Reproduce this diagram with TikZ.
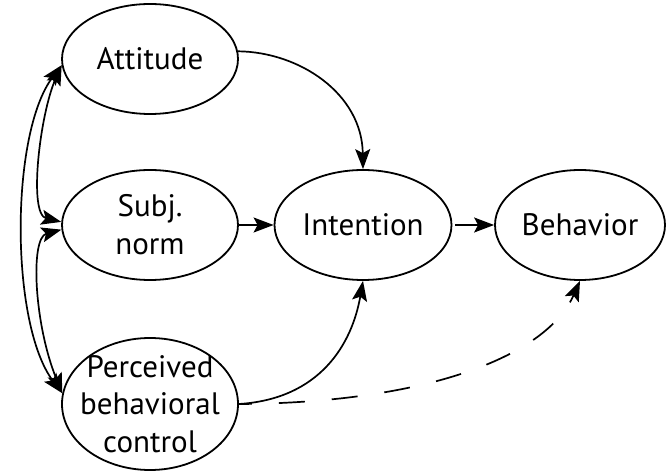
\documentclass[tikz,border=0pt]{standalone}
\usepackage{fontspec}
\setmainfont{PT Sans}
\usetikzlibrary{shapes.geometric,arrows.meta}
\begin{document}
\begin{tikzpicture}[x=1pt,y=1pt,
  ell/.style={ellipse, draw, line width=1.8pt, inner sep=-30pt, align=center,
              font=\fontsize{31}{38}\selectfont},
  arr/.style={line width=1.7pt, -{Stealth[length=20pt,width=15pt,inset=4pt]}},
  darr/.style={line width=1.7pt, {Stealth[length=20pt,width=15pt,inset=4pt]}-{Stealth[length=20pt,width=15pt,inset=4pt]}},
  dash arr/.style={arr, dash pattern=on 26pt off 27pt, dash phase=13pt}]
\useasboundingbox (0,0) rectangle (666,474);
\node[ell, minimum width=176pt, minimum height=110pt] (att)  at (150,415) {Attitude};
\node[ell, minimum width=176pt, minimum height=110pt] (subj) at (150,249) {Subj.\\norm};
\node[ell, minimum width=176pt, minimum height=132pt, font=\fontsize{31}{37.5}\selectfont] (pbc) at (150,70) {Perceived\\behavioral\\control};
\node[ell, minimum width=177pt, minimum height=110pt] (int)  at (363,249) {Intention};
\node[ell, minimum width=170pt, minimum height=110pt] (beh)  at (580,249) {Behavior};
% main arrows
\draw[arr] (att.5) .. controls (300,422) and (362,380) .. (int.north);
\draw[arr] (subj.east) -- (int.west);
\draw[arr, shorten <=3pt] (int.east) -- (beh.west);
\draw[arr] (pbc.east) .. controls (320,75) and (352,130) .. (int.south);
\draw[dash arr] (pbc.east) .. controls (420,71) and (545,115) .. (beh.-90);
% correlations
\draw[darr] (att.184) .. controls (40,360) and (28,260) .. (subj.178);
\draw[darr] (att.184) .. controls (10,340) and (10,150) .. (pbc.173);
\draw[darr] (subj.183) .. controls (30,236) and (34,150) .. (pbc.173);
\end{tikzpicture}
\end{document}
